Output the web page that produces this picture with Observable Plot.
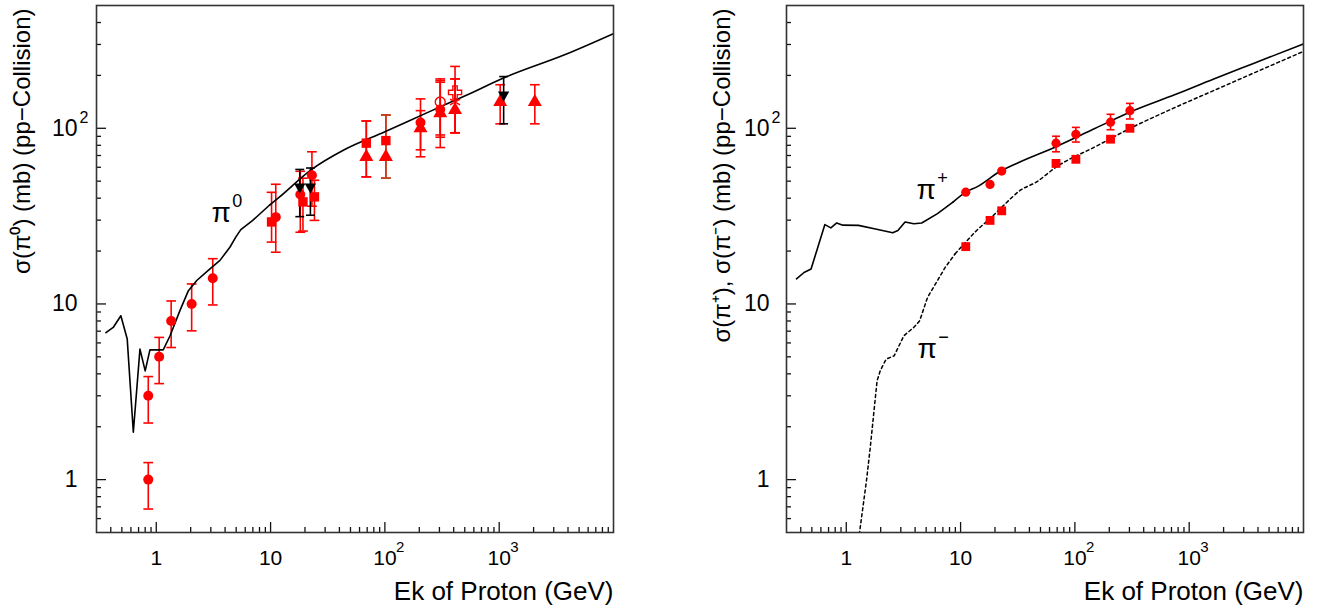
<!DOCTYPE html>
<html><head><meta charset="utf-8">
<script src="https://cdn.jsdelivr.net/npm/d3@7"></script>
<script src="https://cdn.jsdelivr.net/npm/@observablehq/plot@0.6"></script>
<style>
body{margin:0;background:#fff;}
#wrap{display:flex;width:1322px;height:613px;overflow:hidden;}
svg{display:block;}
</style></head><body><div id="wrap"></div>
<script>
// ---------- axis ticks / labels ----------
const xMajor = [1, 10, 100, 1000];
const xMinor = [0.4,0.5,0.6,0.7,0.8,0.9, 2,3,4,5,6,7,8,9, 20,30,40,50,60,70,80,90, 200,300,400,500,600,700,800,900, 2000,3000,4000,5000,6000,7000,8000,9000];
const xTickBase = ["1", "10", "10", "10"];
const xTickExp  = ["", "", "2", "3"];
const yMajor = [1, 10, 100];
const yMinor = [0.6,0.7,0.8,0.9, 2,3,4,5,6,7,8,9, 20,30,40,50,60,70,80,90, 200,300,400];
const yTickBase = ["1", "10", "10"];
const yTickExp  = ["", "", "2"];
const xTitle = "Ek of Proton (GeV)";
const yTitleLeft = "σ(π⁰) (mb) (pp−Collision)";
const yTitleRight = "σ(π⁺), σ(π⁻) (mb) (pp−Collision)";

// ---------- left panel: pi0 ----------
const pi0CurveE = [0.363,0.42,0.49,0.557,0.63,0.72,0.80,0.88,1.15,1.32,1.61,1.91,2.26,2.95,3.61,4.42,4.96,5.49,6.98,9.82,12.0,22.3,44.1,100,243,482,1170,3730,10000];
const pi0CurveS = [6.86,7.35,8.57,6.31,1.86,5.53,4.16,5.48,5.48,6.59,9.16,11.9,13.6,15.85,17.7,21.1,24.0,26.5,29.9,36.6,40.7,57.6,75.4,95.5,124,151,197,262,346];

const circE  = [0.851,0.851,1.06,1.35,2.04,3.12,11.1,18.2,23.0,205,305];
const circS  = [1.0,3.0,5.0,8.0,10.0,14.0,31.2,42.0,54.0,108,128];
const circLo = [0.68,2.1,3.52,5.65,7.03,9.87,19.7,25.6,36,68.8,77.7];
const circHi = [1.25,3.86,6.45,10.4,13.0,18.1,48.0,56.9,73.5,147,191];

const sqE  = [10.2,19.2,24.2,68.8];
const sqS  = [29.3,38.1,40.7,82.3];
const sqLo = [22.5,26.0,29.9,52.9];
const sqHi = [43.2,52.0,50.6,110];

const sq2E  = [102];
const sq2S  = [85.1];
const sq2Lo = [52.0];
const sq2Hi = [119];

const triE  = [68.8,102,205,305,411,1020,2050];
const triS  = [68.7,68.7,100,122,127,141,141];
const triLo = [52.9,52.0,75.4,89.0,94.3,106,106];
const triHi = [110,119,126,183,191,177,177];

const invE  = [18.0,22.3,1094];
const invS  = [46.4,46.4,155];
const invLo = [31.4,32.0,106];
const invHi = [58.3,59.4,197];

const openCircE = [305], openCircS = [141], openCircLo = [91.6], openCircHi = [187];
const crossE = [411], crossS = [160], crossLo = [94.3], crossHi = [225];
const starE = [411], starS = [141], starLo = [94.3], starHi = [191];

const pi0Label = [{E: 3.7, s: 33, t: "π", sup: "0"}];

// ---------- right panel: pi+ / pi- ----------
const piPlusCurveE = [0.367,0.427,0.492,0.65,0.733,0.826,0.931,1.28,1.76,2.55,2.83,3.27,3.9,4.57,6.28,8.63,11.1,13.9,22.4,30.9,68.4,151,335,745,1640,3650,10000];
const piPlusCurveS = [13.9,15.1,15.8,28.3,27.1,28.9,28.1,28.0,26.8,25.4,26.2,29.3,28.6,28.9,32.7,38.1,43.3,46.4,57.1,63.1,78.6,100,127,155,191,234,302];
const piMinusCurveE = [1.29,1.31,1.50,1.62,1.76,1.86,1.98,2.23,2.62,3.19,3.9,4.39,5.14,6.28,7.36,8.97,11.1,13.9,18.1,22.9,33.4,45.9,68.4,151,335,745,1640,3650,10000];
const piMinusCurveS = [0.45,0.507,0.978,1.515,2.57,3.65,4.16,4.85,5.06,6.59,7.36,8.03,10.9,13.6,16.2,19.3,22.5,26.3,30.6,35.5,44.4,49.4,60.1,78.6,103,131,164,206,274];

const piPlusE  = [11.1,18.1,22.9,68.4,102,205,303];
const piPlusS  = [43.3,47.9,57.1,82.3,92.4,108.4,126];
const piPlusLo = [null,null,null,73.5,83.5,98.1,113];
const piPlusHi = [null,null,null,90.1,101.2,120.1,138.6];
const piMinusE = [11.1,18.1,22.9,68.4,102,205,303];
const piMinusS = [21.2,29.9,33.9,63.1,66.6,86.7,100];

const piPlusLabel  = [{E: 5.0, s: 44.4, t: "π", sup: "+"}];
const piMinusLabel = [{E: 5.1, s: 5.52, t: "π", sup: "−"}];

// ---------- helpers ----------
const FONT = "'Liberation Sans', Helvetica, Arial, sans-serif";
const RED = "#ff0000";
const W = 661, H = 613, MT = 5, MB = 81;
const cap = {draw(ctx, size) { const w = Math.sqrt(size) / 2; ctx.moveTo(-w, 0); ctx.lineTo(w, 0); }};

function table(E, S, Lo, Hi) {
  return E.map((e, i) => ({E: e, s: S[i], lo: Lo ? Lo[i] : null, hi: Hi ? Hi[i] : null}));
}
function curve(E, S) { return E.map((e, i) => ({E: e, s: S[i]})); }
// jagged low-energy part drawn straight, smooth high-energy part drawn with a monotone curve
function modelLine(data, split, style) {
  return [
    Plot.line(data, {x: "E", y: "s", filter: d => d.E <= split, clip: true, ...style}),
    Plot.line(data, {x: "E", y: "s", filter: d => d.E >= split, curve: "monotone-x", clip: true, ...style})
  ];
}
function bars(data, color, capR) {
  const d = data.filter(r => r.lo != null && r.hi != null);
  return [
    Plot.ruleX(d, {x: "E", y1: "lo", y2: "hi", stroke: color, strokeWidth: 1.6}),
    Plot.dot(d, {x: "E", y: "lo", symbol: cap, r: capR, stroke: color, strokeWidth: 1.6, fill: "none"}),
    Plot.dot(d, {x: "E", y: "hi", symbol: cap, r: capR, stroke: color, strokeWidth: 1.6, fill: "none"})
  ];
}
function label(d) {
  return [
    Plot.text(d, {x: "E", y: "s", text: "t", fontSize: 28, fill: "#000", fontFamily: FONT}),
    Plot.text(d, {x: "E", y: "s", text: "sup", fontSize: 18, dx: 11, dy: -12, textAnchor: "start", fill: "#000", fontFamily: FONT})
  ];
}

function panel(ml, mr, yTitle, yTitleX, yLabelDx, dataMarks) {
  const plotH = H - MT - MB, plotW = W - ml - mr;
  return Plot.plot({
    width: W, height: H, marginLeft: ml, marginRight: mr, marginTop: MT, marginBottom: MB,
    style: {fontFamily: FONT, background: "white", color: "#000", overflow: "visible"},
    x: {type: "log", domain: [0.3, 10000], axis: null},
    y: {type: "log", domain: [0.5, 500], axis: null},
    marks: [
      ...dataMarks,
      Plot.tickX(xMajor, {x: d => d, stroke: "#111", strokeWidth: 1.3, insetTop: plotH - 10}),
      Plot.tickX(xMinor, {x: d => d, stroke: "#111", strokeWidth: 1.3, insetTop: plotH - 5}),
      Plot.tickY(yMajor, {y: d => d, stroke: "#111", strokeWidth: 1.3, insetRight: plotW - 10}),
      Plot.tickY(yMinor, {y: d => d, stroke: "#111", strokeWidth: 1.3, insetRight: plotW - 5}),
      Plot.frame({stroke: "#333", strokeWidth: 1.6}),
      Plot.text(xMajor, {x: d => d, text: (d, i) => xTickBase[i], frameAnchor: "bottom", lineAnchor: "middle", dy: 26, fontSize: 21, fill: "#000"}),
      Plot.text(xMajor, {x: d => d, text: (d, i) => xTickExp[i], frameAnchor: "bottom", lineAnchor: "middle", textAnchor: "start", dx: 11, dy: 15, fontSize: 15, fill: "#000"}),
      Plot.text(yMajor, {y: d => d, text: (d, i) => yTickBase[i], frameAnchor: "left", textAnchor: "end", dx: yLabelDx, fontSize: 23, fill: "#000"}),
      Plot.text(yMajor, {y: d => d, text: (d, i) => yTickExp[i], frameAnchor: "left", textAnchor: "start", dx: yLabelDx + 2, dy: -10, fontSize: 16, fill: "#000"}),
      Plot.text([xTitle], {frameAnchor: "bottom-right", textAnchor: "end", lineAnchor: "middle", dy: 59, fontSize: 26, fill: "#000"}),
      Plot.text([yTitle], {frameAnchor: "top-left", rotate: -90, textAnchor: "end", lineAnchor: "middle", dx: yTitleX - ml, dy: 3, fontSize: 24, fill: "#000"})
    ]
  });
}

// ---------- left panel marks ----------
const circ = table(circE, circS, circLo, circHi);
const sq = table(sqE, sqS, sqLo, sqHi);
const sq2 = table(sq2E, sq2S, sq2Lo, sq2Hi);
const tri = table(triE, triS, triLo, triHi);
const inv = table(invE, invS, invLo, invHi);
const oc = table(openCircE, openCircS, openCircLo, openCircHi);
const cr = table(crossE, crossS, crossLo, crossHi);
const st = table(starE, starS, starLo, starHi);

const leftMarks = [
  ...bars(tri, RED, 5.5), ...bars(circ, RED, 5.5), ...bars(sq, RED, 5.5), ...bars(sq2, "#b8481c", 5.5),
  ...bars(oc, RED, 5.5), ...bars(cr, RED, 5.5), ...bars(st, RED, 5.5), ...bars(inv, "#000", 5),
  ...modelLine(curve(pi0CurveE, pi0CurveS), 9.82, {stroke: "#000", strokeWidth: 1.6}),
  Plot.dot(tri, {x: "E", y: "s", symbol: "triangle", r: 5.2, fill: RED}),
  Plot.dot(circ, {x: "E", y: "s", symbol: "circle", r: 5, fill: RED}),
  Plot.dot(sq, {x: "E", y: "s", symbol: "square", r: 5.3, fill: RED}),
  Plot.dot(sq2, {x: "E", y: "s", symbol: "square", r: 5.3, fill: RED}),
  Plot.dot(oc, {x: "E", y: "s", symbol: "circle", r: 5, fill: "none", stroke: RED, strokeWidth: 1.4}),
  Plot.dot(cr, {x: "E", y: "s", symbol: "cross", r: 5.5, fill: "none", stroke: RED, strokeWidth: 1.4}),
  Plot.dot(st, {x: "E", y: "s", symbol: "asterisk", r: 5.5, fill: "none", stroke: RED, strokeWidth: 1.4}),
  Plot.dot(inv, {x: "E", y: "s", symbol: "triangle", rotate: 180, r: 4.2, fill: "#000"}),
  ...label(pi0Label)
];

// ---------- right panel marks ----------
const pp = table(piPlusE, piPlusS, piPlusLo, piPlusHi);
const pm = table(piMinusE, piMinusS);
const rightMarks = [
  ...modelLine(curve(piPlusCurveE, piPlusCurveS), 8.63, {stroke: "#000", strokeWidth: 1.6}),
  ...modelLine(curve(piMinusCurveE, piMinusCurveS), 8.97, {stroke: "#000", strokeWidth: 1.5, strokeDasharray: "3,3"}),
  ...bars(pp, RED, 4.5),
  Plot.dot(pp, {x: "E", y: "s", symbol: "circle", r: 4.6, fill: RED}),
  Plot.dot(pm, {x: "E", y: "s", symbol: "square", r: 5, fill: RED}),
  ...label(piPlusLabel), ...label(piMinusLabel)
];

const wrap = document.getElementById("wrap");
wrap.append(panel(96, 48, yTitleLeft, 22, -19, leftMarks));
wrap.append(panel(125, 19, yTitleRight, 61, -17, rightMarks));
</script>
</body></html>
